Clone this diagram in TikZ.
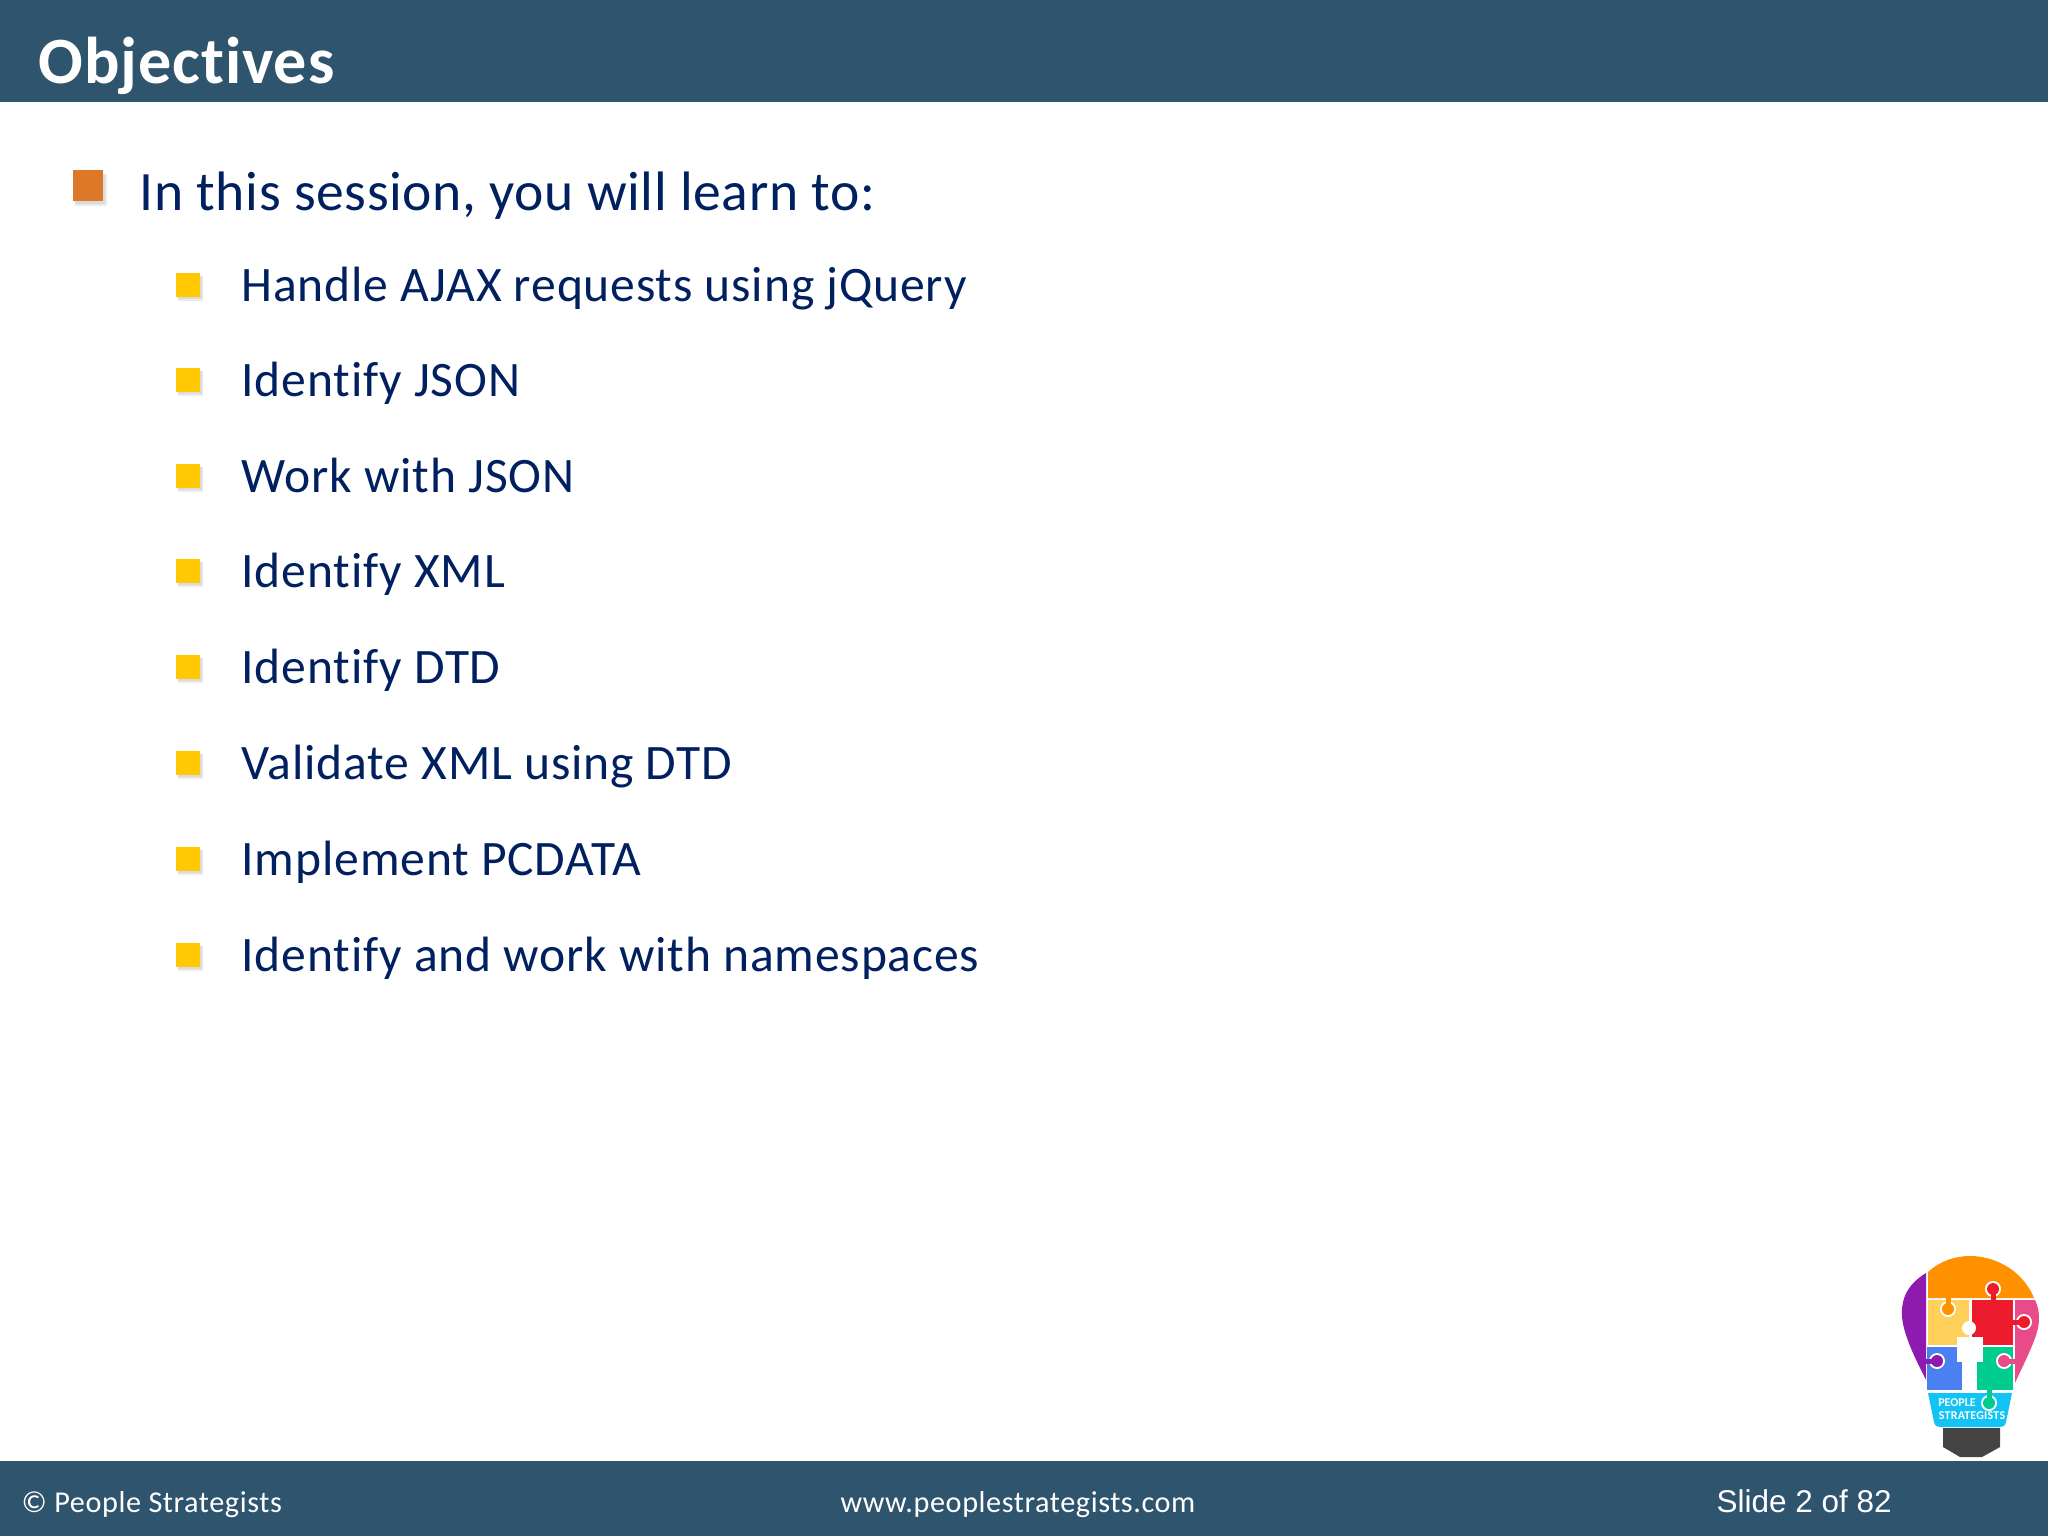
\documentclass[tikz,border=0pt]{standalone}
\usepackage{fontspec}
\setmainfont{Carlito}[Ligatures=NoCommon]
\newfontfamily\slidefont{Liberation Sans}
\definecolor{barblue}{HTML}{2F546E}
\definecolor{textblue}{HTML}{002060}
\definecolor{bulletorange}{HTML}{DD7828}
\definecolor{bulletyellow}{HTML}{FFC800}
\definecolor{bulborange}{HTML}{FF9100}
\definecolor{bulbyellow}{HTML}{FFD05A}
\definecolor{bulbred}{HTML}{EC1C2C}
\definecolor{bulbpink}{HTML}{E94B8A}
\definecolor{bulbpurple}{HTML}{8E1AB0}
\definecolor{bulbblue}{HTML}{4A80F0}
\definecolor{bulbgreen}{HTML}{00CC8E}
\definecolor{bulbcyan}{HTML}{12C4F5}
\definecolor{bulbdark}{HTML}{444444}
\newcommand{\bigbullet}[1]{\fill[black!8] (#1)+(-13,-11) rectangle +(19,21);
\fill[black!14] (#1)+(-13,-11) rectangle +(17,19);
\fill[bulletorange] (#1)+(-15,-15) rectangle +(15,16);}
\newcommand{\subbullet}[1]{\fill[black!8] (#1)+(-10,-9) rectangle +(15,16);
\fill[black!14] (#1)+(-10,-9) rectangle +(14,14);
\fill[bulletyellow] (#1)+(-12,-12) rectangle +(12,12);}
\newcommand{\knob}[3]{\fill[white] (#2) circle (8);
\fill[#1] (#2) circle (6);
\draw[#1,line width=.5mm] (#2) -- (#3);}

\begin{document}
\begin{tikzpicture}[x=.01cm,y=-.01cm]
\tikzstyle{every node}=[inner sep=0pt, anchor=base west]
\tikzstyle{item}=[text=textblue, font=\fontsize{14.1pt}{16pt}\selectfont\addfontfeatures{LetterSpace=1.7}]
\tikzstyle{foot}=[text=white, font=\fontsize{8.6pt}{10pt}\selectfont\addfontfeatures{LetterSpace=1.9}]
\useasboundingbox (0,0) rectangle (2048,1536);
\fill[white] (0,0) rectangle (2048,1536);
\fill[barblue] (0,0) rectangle (2048,102);
\fill[barblue] (0,1461) rectangle (2048,1536);
\draw (38,83) node (title) [text=white, font=\fontsize{18.8pt}{20pt}\selectfont\bfseries\addfontfeatures{LetterSpace=1.4}] {Objectives};

\bigbullet{88,185}
\draw (139,210.5) node (lead) [item, font=\fontsize{15.8pt}{18pt}\selectfont\addfontfeatures{LetterSpace=1.15}] {In this session, you will learn to:};

\subbullet{187.5,285}
\subbullet{187.5,380}
\subbullet{187.5,476}
\subbullet{187.5,571}
\subbullet{187.5,667}
\subbullet{187.5,763}
\subbullet{187.5,859}
\subbullet{187.5,955}
\draw (241,301.5) node (obj1) [item] {Handle AJAX requests using jQuery};
\draw (241,396.5) node (obj2) [item] {Identify JSON};
\draw (241,492.5) node (obj3) [item] {Work with JSON};
\draw (241,587.5) node (obj4) [item] {Identify XML};
\draw (241,683.5) node (obj5) [item] {Identify DTD};
\draw (241,779.5) node (obj6) [item] {Validate XML using DTD};
\draw (241,875.5) node (obj7) [item] {Implement PCDATA};
\draw (241,971.5) node (obj8) [item] {Identify and work with namespaces};

% bulb
\fill[bulbpurple] (1926,1273) .. controls (1908,1284) and (1901,1298) .. (1902,1316) .. controls (1903,1335) and (1917,1362) .. (1926,1380) -- cycle;
\fill[bulbpink] (2015,1300) -- (2035,1300) .. controls (2039,1308) and (2040,1318) .. (2038,1328) .. controls (2034,1345) and (2022,1367) .. (2015,1383) -- cycle;
\fill[bulborange] (1928,1298) -- (1928,1272) .. controls (1940,1261) and (1955,1256) .. (1970,1256) .. controls (1998,1256) and (2024,1273) .. (2034,1298) -- cycle;
\fill[bulbyellow] (1928,1300) rectangle (1969,1345);
\fill[bulbred] (1972,1300) rectangle (2013,1345);
\fill[bulbblue] (1927,1347) rectangle (1963,1390);
\fill[bulbgreen] (1977,1347) rectangle (2013,1390);
\fill[bulbcyan] (1928,1393) -- (2012,1393) -- (2006,1422) .. controls (2005,1426) and (2003,1427) .. (2000,1427) -- (1940,1427) .. controls (1937,1427) and (1935,1426) .. (1934,1422) -- cycle;
\fill[bulbdark] (1943,1428) -- (2000,1428) -- (2000,1447) -- (1982,1457) -- (1960,1457) -- (1943,1447) -- cycle;
% puzzle knobs
\knob{bulborange}{1948,1309}{1948,1298}
\knob{bulbred}{1993,1289}{1993,1302}
\knob{bulbred}{2024,1322}{2011,1322}
\knob{bulbpurple}{1937,1361}{1925,1361}
\knob{bulbpink}{2004,1361}{2016,1361}
\knob{bulbgreen}{1989,1403}{1989,1388}
% person
\fill[white] (1969,1328) circle (7);
\fill[white] (1957,1337) rectangle (1983,1362);
\fill[white] (1962,1350) rectangle (1977,1390);

\draw (1957,1406) node (logo1) [anchor=base, text=white, font=\fontsize{3.4pt}{3pt}\selectfont\bfseries] {PEOPLE};
\draw (1972,1419) node (logo2) [anchor=base, text=white, font=\fontsize{3.4pt}{3pt}\selectfont\bfseries\addfontfeatures{LetterSpace=2}] {STRATEGISTS};

\draw (21,1512) node (copy) [foot] {© People Strategists};
\draw (1018,1512) node (site) [foot, anchor=base] {www.peoplestrategists.com};
\draw (1716,1512) node (page) [foot, font=\fontsize{8.95pt}{10pt}\slidefont] {Slide 2 of 82};
\end{tikzpicture}
\end{document}
